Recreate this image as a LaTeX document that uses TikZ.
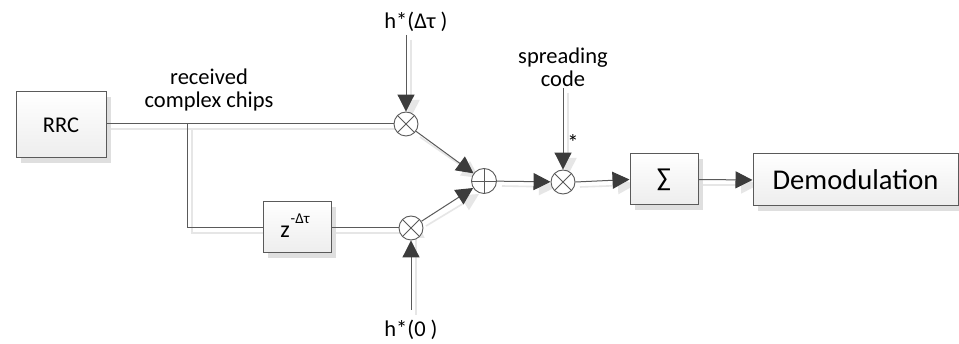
\documentclass[tikz,border=0pt]{standalone}
\usepackage{fontspec}
\setmainfont{Carlito}
\usetikzlibrary{arrows.meta,shadows}
\definecolor{ln}{HTML}{5A5A5A}
\definecolor{ar}{HTML}{3C3C3C}
\definecolor{sh}{HTML}{E6E6E6}
\begin{document}
\begin{tikzpicture}[x=1pt,y=-1pt,
  blk/.style={draw=ln, line width=1pt, top color=white, bottom color=gray!14,
    inner sep=0pt, drop shadow={shadow xshift=5pt, shadow yshift=-5pt, fill=gray!25, opacity=1}},
  mul/.style={circle, draw=ln, line width=0.9pt, fill=white, minimum size=24pt, inner sep=0pt,
    path picture={\draw[ln, line width=0.8pt] (path picture bounding box.north west) -- (path picture bounding box.south east)
      (path picture bounding box.north east) -- (path picture bounding box.south west);}},
  add/.style={circle, draw=ln, line width=0.9pt, fill=white, minimum size=25pt, inner sep=0pt,
    path picture={\draw[ln, line width=0.8pt] (path picture bounding box.north) -- (path picture bounding box.south)
      (path picture bounding box.east) -- (path picture bounding box.west);}},
  wire/.style={draw=ln, line width=1pt},
  wsh/.style={draw=sh, line width=1.6pt},
  arr/.style={wire, -{Triangle[length=17pt,width=17pt,color=ar]}},
  ash/.style={wsh, -{Triangle[length=17pt,width=17pt,color=sh]}},
  lbl/.style={font=\fontsize{22.5}{23}\selectfont, inner sep=0pt, align=center},
]
\useasboundingbox (0,0) rectangle (959,344);
\fill[white] (0,0) rectangle (959,344);

% operator positions
\coordinate (cmt) at (406,124);
\coordinate (cmb) at (411,228);
\coordinate (csum) at (484,181);
\coordinate (cms) at (563,182);

% wire shadows
\begin{scope}[shift={(5,5)}]
\draw[wsh] (106,124) -- (394,124);
\draw[wsh] (187,124) -- (187,228) -- (263,228);
\draw[wsh] (331,228) -- (399,228);
\draw[ash] (406,35) -- (406,112);
\draw[ash] (411,310) -- (411,216);
\draw[ash] (563,88) -- (563,170);
\draw[ash] (415,132) -- (474,173);
\draw[ash] (421,221) -- (474,189);
\draw[ash] (497,181) -- (551,182);
\draw[ash] (575,182) -- (630,180);
\draw[ash] (698,180) -- (753,180);
\end{scope}

% blocks
\node[blk, minimum width=90pt, minimum height=66pt, font=\fontsize{22.5}{23}\selectfont] (rrc) at (61,125) {RRC};
\node[blk, minimum width=68pt, minimum height=51pt] (zb) at (297,227.5) {};
\node[font=\fontsize{24}{24}\selectfont, inner sep=0pt, anchor=base] (zt) at (285,238) {z};
\node[font=\fontsize{15}{15}\selectfont, inner sep=0pt, anchor=base west] (zs) at (290.5,224) {-Δτ};
\node[blk, minimum width=68pt, minimum height=51pt, font=\fontsize{26}{26}\selectfont] (sg) at (664,179.5) {∑};
\node[blk, minimum width=205pt, minimum height=52pt, font=\fontsize{28.6}{30}\selectfont] (dm) at (855.5,180) {Demodulation};

% operators
\node[mul] (mt) at (cmt) {};
\node[mul] (mb) at (cmb) {};
\node[add] (sum) at (csum) {};
\node[mul] (ms) at (cms) {};

% labels
\node[lbl] (rc) at (209,90) {received\\complex chips};
\node[lbl] (hd) at (416,22) {h*(Δτ )};
\node[lbl] (h0) at (411,330) {h*(0 )};
\node[lbl] (sc) at (563,67) {spreading\\code};
\node[lbl] (st) at (573,143) {*};

\coordinate (hdtop) at (406,35);
\coordinate (h0bot) at (411,310);
\coordinate (sctop) at (563,88);
\coordinate (br) at (187,124);

% wires
\draw[wire] (rrc.east |- mt) -- (mt.west);
\draw[wire] (br) |- (zb.west);
\draw[wire] (zb.east |- mb) -- (mb.west);
\draw[arr] (hdtop) -- (mt.north);
\draw[arr] (h0bot) -- (mb.south);
\draw[arr] (sctop) -- (ms.north);
\draw[arr] (mt) -- (sum);
\draw[arr] (mb) -- (sum);
\draw[arr] (sum) -- (ms);
\draw[arr] (ms.east) -- (sg.west);
\draw[arr] (sg.east) -- (dm.west);
\end{tikzpicture}
\end{document}
